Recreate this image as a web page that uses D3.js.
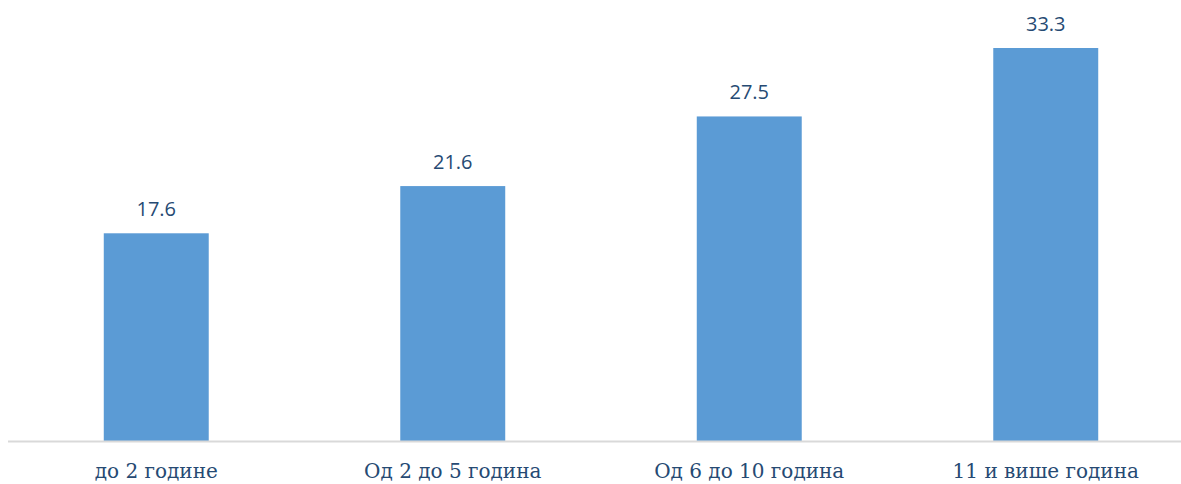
<!DOCTYPE html>
<html>
<head>
<meta charset="utf-8">
<script src="https://cdn.jsdelivr.net/npm/d3@7"></script>
<style>
  html, body { margin: 0; padding: 0; background: #ffffff; }
  svg { display: block; }
</style>
</head>
<body>
<svg id="chart" width="1181" height="484"></svg>
<script>
// Share by years of service
const categories = ["до 2 године", "Од 2 до 5 година", "Од 6 до 10 година", "11 и више година"];
const values = [17.6, 21.6, 27.5, 33.3];

const width = 1181, height = 484;
const baseY = 441;

const svg = d3.select("#chart");

const x = d3.scaleBand()
  .domain(categories)
  .range([8, 1194])
  .paddingInner(0.646)
  .paddingOuter(0.323);

const y = d3.scaleLinear()
  .domain([0, 33.3])
  .range([baseY, 48]);

// Bars
svg.append("g")
  .selectAll("rect")
  .data(values)
  .join("rect")
  .attr("x", (d, i) => x(categories[i]))
  .attr("y", d => y(d))
  .attr("width", x.bandwidth())
  .attr("height", d => baseY - y(d))
  .attr("fill", "#5b9bd5");

// Category axis
const xAxis = svg.append("g")
  .attr("transform", `translate(0,${baseY})`)
  .call(d3.axisBottom(x).tickSize(0).tickPadding(0));
xAxis.select(".domain").remove();
xAxis.append("line")
  .attr("x1", 8).attr("x2", width)
  .attr("y1", 0.5).attr("y2", 0.5)
  .attr("stroke", "#d9d9d9")
  .attr("stroke-width", 2);
xAxis.selectAll(".tick text")
  .attr("dy", null)
  .attr("y", 37)
  .attr("font-family", "'DejaVu Serif', 'Liberation Serif', serif")
  .attr("font-size", 20)
  .attr("fill", "#264a73");

// Value labels
svg.append("g")
  .selectAll("text")
  .data(values)
  .join("text")
  .attr("x", (d, i) => x(categories[i]) + x.bandwidth() / 2)
  .attr("y", d => y(d) - 17)
  .attr("text-anchor", "middle")
  .attr("font-family", "'Open Sans', 'Liberation Sans', sans-serif")
  .attr("font-size", 20)
  .attr("fill", "#264a73")
  .text(d => d.toFixed(1));
</script>
</body>
</html>
